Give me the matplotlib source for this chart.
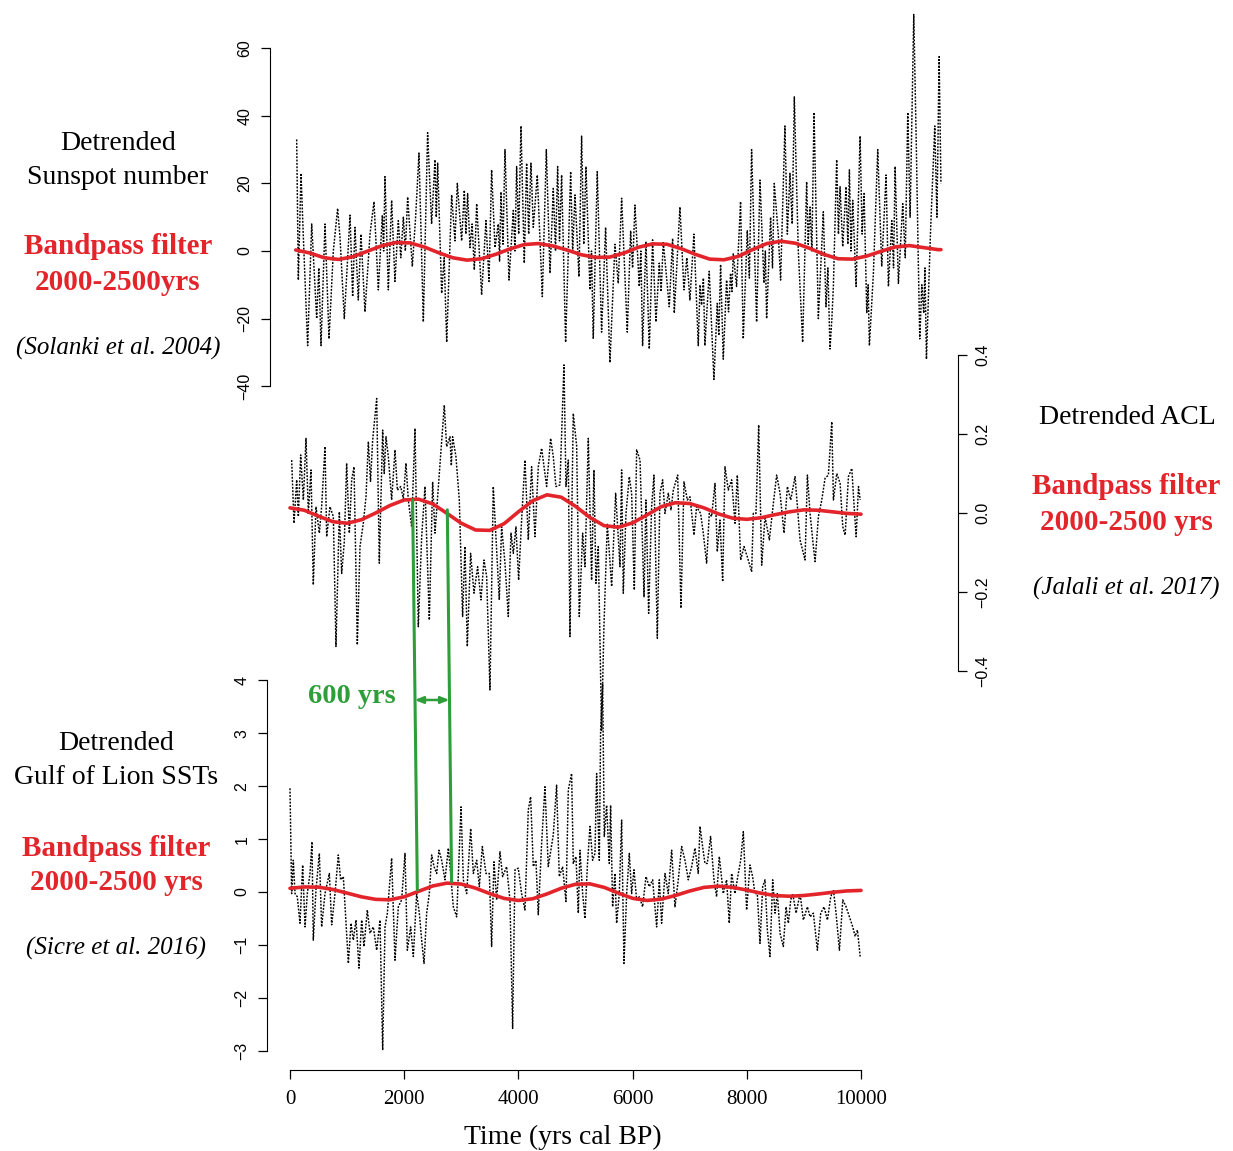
import numpy as np
import matplotlib.pyplot as plt
from matplotlib.patches import ConnectionPatch

# ---------------- data ----------------
# Detrended sunspot number (Solanki et al. 2004)
sun_years = [117, 146, 193, 234, 309, 380, 467, 505, 543, 613, 683, 759, 834, 876, 951, 1051, 1097, 1138, 1196, 1243,
             1313, 1401, 1471, 1547, 1617, 1640, 1663, 1722, 1780, 1838, 1897, 1940, 1985, 2020, 2060, 2142, 2200, 2259,
             2335, 2410, 2480, 2539, 2562, 2586, 2656, 2700, 2744, 2831, 2889, 2930, 3006, 3053, 3080, 3111, 3152, 3190,
             3228, 3269, 3356, 3432, 3485, 3531, 3590, 3648, 3670, 3695, 3730, 3765, 3835, 3911, 3940, 3969, 4005, 4045,
             4103, 4144, 4180, 4220, 4261, 4331, 4419, 4489, 4553, 4611, 4650, 4687, 4720, 4757, 4827, 4915, 4950, 4991,
             5061, 5107, 5145, 5183, 5253, 5280, 5311, 5381, 5457, 5527, 5603, 5691, 5749, 5808, 5907, 5966, 6000, 6041,
             6117, 6145, 6175, 6234, 6292, 6350, 6409, 6467, 6500, 6537, 6642, 6701, 6730, 6829, 6899, 6950, 7004, 7074,
             7150, 7180, 7208, 7240, 7266, 7342, 7424, 7483, 7510, 7541, 7588, 7646, 7680, 7716, 7740, 7763, 7821, 7891,
             7938, 8008, 8045, 8084, 8172, 8231, 8301, 8325, 8347, 8417, 8450, 8481, 8551, 8592, 8668, 8710, 8756, 8795,
             8832, 8902, 8978, 9048, 9075, 9107, 9140, 9177, 9253, 9340, 9387, 9420, 9457, 9490, 9516, 9574, 9605, 9633,
             9680, 9738, 9770, 9797, 9825, 9855, 9914, 9984, 10020, 10054, 10101, 10125, 10147, 10217, 10293, 10363,
             10439, 10480, 10539, 10570, 10597, 10655, 10731, 10775, 10819, 10860, 10924, 10970, 11000, 11029, 11065,
             11099, 11120, 11146, 11216, 11292, 11330, 11368, 11400]
sun_vals = [33, -8.6, 23, 4, -28, 8, -20, -5, -28, 8, -26, 0, 12.6, 4, -20, 10.6, -13.5, 7, -14.5, 5,
            -18, 5, 14.6, -11.5, 10.6, 0, 22, -11.5, 15, -9, 9, -2, 10, 0, 16, -4.6, 10, 29,
            -21, 35, 8, 27, 10, 26, -12.5, -2, -27, 16.6, 3, 20, 3, 18, 5, 17, 1, 8,
            -5.6, 14, -13, 9, -9, 24, 1, 8, -3, 17.5, 2, 30, -8.6, 12, 0, 25, 5, 37,
            -3.6, 26, 5, 26, 7, 22.5, -13.5, 30, -6.6, 18.5, 0, 25, 3, 22.5, -27, 23.5, 0, 16.6,
            -7.6, 34, 2, 25, -11.5, 0, -26, 23.5, -24, 7, -33, 2, -9.6, 15.6, -24, 6, -5, 13.6,
            -10.5, 0, -28, 2.8, -29, 3.3, -21, -3.6, -12, 2.8, -16.5, 3.7, -18.4, 13, -11.5, -2, -14.5, 5,
            -28, -10, -16, -8, -28, -6, -38, -15.5, -25, -4, -32, -8.6, -18, -6.6, -12, -0.7, -10.5, 14.6,
            -26, 6, -8, 30, -21, 21, -9.5, 0, -20, 10, -5, 20, 5, -8.6, 37, 5, 23, 8,
            45.6, 0, -27, 20.5, 2, 13, 0, 41, -20, 11.6, -16.5, -5, -29, -20, -10.5, 27, 5, 19,
            1.3, 19, 2, 24, 0, 15, -10.5, 34, 5, 17, -18.4, -10, -28, -6.6, 30, -4.6,
            22.5, -10.5, 9, -5, 25, -9.6, 14, -2, 41, 10, 70, 30, 0, -26, -10,
            -18.4, -5, -32, 5, 37, 10, 57.5, 20]
sun_bp_years = np.arange(100, 11400, 250)
sun_bp_years = np.append(sun_bp_years, 11400)
sun_bp_vals = [0.3, -0.6, -2.0, -2.5, -1.7, -0.1, 1.5, 2.5, 2.4, 1.2, -0.5, -2.0, -2.7, -2.3, -1.0, 0.6,
               1.9, 2.2, 1.5, 0.3, -1.1, -1.9, -1.8, -0.6, 1.1, 2.1, 2.0, 0.7, -1.0, -2.4, -2.6, -1.6,
               0.4, 2.2, 2.9, 2.3, 0.8, -1.0, -2.3, -2.4, -1.5, -0.1, 1.2, 1.6, 1.0, 0.4, 0.4]

# Detrended ACL (Jalali et al. 2017)
acl_years = [29, 70, 117, 146, 187, 234, 280, 321, 368, 408, 455, 514, 554, 613, 642, 700, 759, 805, 864, 905,
             951, 992, 1039, 1080, 1121, 1179, 1226, 1284, 1331, 1372, 1410, 1448, 1518, 1564, 1623, 1650, 1681,
             1722, 1780, 1839, 1880, 1938, 1985, 2031, 2072, 2130, 2189, 2247, 2306, 2364, 2440, 2498, 2539, 2615,
             2702, 2743, 2802, 2825, 2848, 2906, 2965, 3023, 3064, 3105, 3163, 3222, 3286, 3344, 3397, 3444, 3502,
             3560, 3619, 3665, 3706, 3765, 3823, 3870, 3911, 3957, 4004, 4056, 4115, 4173, 4231, 4290, 4348, 4407,
             4494, 4564, 4611, 4657, 4727, 4798, 4833, 4874, 4903, 4961, 5020, 5066, 5125, 5166, 5224, 5282, 5323,
             5358, 5399, 5457, 5498, 5557, 5633, 5703, 5779, 5808, 5837, 5884, 5942, 5983, 6030, 6071, 6130, 6200,
             6234, 6281, 6333, 6374, 6433, 6479, 6526, 6567, 6625, 6672, 6713, 6789, 6847, 6900, 6958, 7005, 7075,
             7121, 7191, 7238, 7296, 7343, 7384, 7443, 7483, 7530, 7577, 7618, 7676, 7735, 7793, 7834, 7893, 7951,
             8009, 8085, 8114, 8161, 8208, 8261, 8319, 8395, 8465, 8523, 8582, 8652, 8711, 8769, 8845, 8932, 9020,
             9061, 9108, 9166, 9196, 9254, 9313, 9371, 9429, 9488, 9517, 9576, 9634, 9681, 9722, 9780, 9839, 9880,
             9915, 9956, 9986]
acl_vals = [.134, -.026, .084, -.009, .147, .033, .189, -.001, .109, -.182, .016, -.051, .016, .168, -.060, .016,
            -.009, -.338, .003, -.153, -.073, .126, -.051, .084, .117, -.334, -.085, -.026, .041, .181, .080, .185,
            .290, -.127, .210, .100, .193, .143, .033, .160, .058, .067, .037, .126, .033, -.035, .214, -.288, -.060,
            .067, -.271, .079, -.051, .100, .273, .168, .193, .120, .193, .143, .033, -.262, -.085, -.338, -.102,
            -.203, -.136, -.220, -.119, -.161, -.448, .067, -.094, -.220, -.035, -.127, -.262, -.051, -.102, -.035,
            -.170, -.018, .134, -.068, .117, -.060, .117, .164, .067, .189, .143, .067, .071, .375, .067, .134,
            -.313, .252, .170, -.262, -.051, -.136, .189, -.170, .109, -.178, -.085, -.550, -.288, -.026, -.186,
            .050, -.136, .109, -.203, -.001, .092, .050, -.195, .160, .134, -.212, .033, -.254, .016, .096, -.317,
            .050, .084, -.001, .050, .008, .058, .096, -.241, .079, .033, .041, -.056, .016, -.001, -.051, -.127,
            -.001, -.009, .075, -.098, -.018, -.174, .117, .058, .084, -.026, .096, -.119, -.085, -.111, -.149,
            -.001, -.001, .223, -.132, -.009, -.068, .024, .096, .050, -.051, .067, .033, .092, -.068, -.119, .096,
            -.001, -.085, -.123, -.009, .033, .088, .096, .231, .033, .100, .075, -.035, -.056, .092, .113, .016,
            -.060, .067, .033]
acl_bp_years = np.arange(0, 10001, 250)
acl_bp_vals = [.013, .007, -.008, -.022, -.026, -.017, .000, .019, .033, .035, .023, -.001, -.026, -.043, -.044,
               -.027, .003, .031, .046, .040, .017, -.011, -.032, -.036, -.025, -.005, .016, .026, .024, .013,
               -.002, -.013, -.016, -.012, -.004, .003, .008, .007, .003, -.001, -.003]

# Detrended Gulf of Lion SSTs (Sicre et al. 2016)
sst_years = [0, 29, 58, 88, 128, 175, 222, 263, 303, 350, 385, 408, 455, 514, 554, 613, 689, 730, 788, 846, 887,
             934, 975, 1022, 1068, 1109, 1156, 1208, 1255, 1296, 1354, 1401, 1459, 1518, 1576, 1623, 1664, 1705,
             1780, 1839, 1897, 1955, 2014, 2055, 2113, 2160, 2218, 2265, 2306, 2347, 2393, 2440, 2481, 2522, 2569,
             2609, 2656, 2714, 2773, 2813, 2860, 2919, 2995, 3036, 3094, 3164, 3211, 3269, 3316, 3368, 3432, 3491,
             3531, 3572, 3619, 3677, 3724, 3794, 3852, 3899, 3940, 3998, 4056, 4115, 4173, 4214, 4261, 4307, 4348,
             4407, 4465, 4523, 4564, 4611, 4669, 4716, 4774, 4833, 4874, 4932, 4961, 5008, 5049, 5078, 5125, 5166,
             5207, 5253, 5300, 5341, 5370, 5417, 5440, 5475, 5504, 5545, 5592, 5615, 5650, 5691, 5720, 5767, 5808,
             5849, 5896, 5942, 5983, 6024, 6071, 6117, 6176, 6234, 6292, 6351, 6421, 6468, 6508, 6567, 6625, 6684,
             6742, 6800, 6859, 6917, 6975, 7034, 7092, 7150, 7180, 7226, 7267, 7308, 7366, 7425, 7471, 7518, 7588,
             7646, 7693, 7734, 7793, 7851, 7893, 7939, 7997, 8056, 8102, 8143, 8184, 8231, 8278, 8319, 8360, 8406,
             8453, 8494, 8535, 8582, 8640, 8687, 8728, 8769, 8804, 8863, 8933, 8991, 9061, 9108, 9166, 9236, 9295,
             9353, 9412, 9470, 9517, 9563, 9622, 9681, 9739, 9797, 9856, 9897, 9938, 9985]
sst_vals = [1.96, -.03, .60, -.03, -.09, -.59, .51, -.66, -.03, .35, .95, -.91, .04, .73, -.66, -.03, .35, -.62,
            -.03, .70, .23, .29, -.47, -1.35, -.59, -.91, -.53, -1.44, -.53, -1.03, -.34, -.78, -.66, -1.10, -.53,
            -2.99, -.66, -.40, .64, -1.29, -.28, -.15, .73, -1.10, -.66, -1.22, -.03, -.40, -.91, -1.35, -.40, -.03,
            .70, .48, .35, .79, .60, .23, .83, .35, -.28, -.47, 1.61, .23, -.03, 1.20, .35, .60, .10, .86, .35, .35,
            -1.03, .57, -.15, .76, .29, .48, -.15, -2.58, .42, .45, -.03, -.34, 1.55, 1.80, .48, .60, -.43,
            .92, 1.99, .48, .76, 1.08, 2.02, .29, .48, -.18, 1.93, 2.24, .54, .67, -.40, .79, -.03, -.50,
            .48, 1.24, .60, .73, 2.24, .60, 3.06, 3.94, 1.05, 1.64, .54, 1.64, -.28, .35, -.59, -.03, 1.36,
            -1.35, -.03, .73, -.03, .42, -.15, -.09, -.28, .29, .10, .23, -.66, .23, -.59, .35, -.03, .79,
            -.28, .23, .86, .60, .23, .48, .83, .35, 1.24, .86, .54, .54, 1.05, .23, -.09, .67, -.03,
            .23, -.59, .35, -.03, .35, .60, 1.14, -.34, .51, .29, -.03, -.03, -.97, .10, .23, -.72, -1.22,
            .23, -.40, -.03, -.78, -1.03, -.28, -.59, -.15, -.03, -.40, -.03, -.53, -.28, -.47, -.40, -1.10, -.40,
            -.28, -.53, -.09, .04, -.40, -1.10, -.15, -.28, -.47, -.66, -.84, -.72, -1.22]
sst_bp_years = np.arange(0, 10001, 250)
sst_bp_vals = [.07, .095, .092, .048, -.021, -.091, -.139, -.147, -.091, .012, .114, .168, .15, .073, -.031,
               -.121, -.16, -.128, -.037, .071, .146, .154, .088, -.02, -.119, -.16, -.135, -.066, .019, .087,
               .11, .088, .037, -.023, -.068, -.08, -.066, -.038, -.006, .02, .03]

# green phase-shift markers: (year, ACL value) -> (year, SST value)
shift_acl_years = [2147, 2755]
shift_acl_vals = [0.033, 0.008]
shift_sst_years = [2230, 2830]
shift_sst_vals = [0.038, 0.195]

# ---------------- layout ----------------
W, H = 1233, 1151
X0, PX_PER_YR = 290, 0.0571
RED = '#e3242b'
GREEN = '#2e9e3a'
SERIF = 'Liberation Serif'
SANS = 'Liberation Sans'


def box(l, t, r, b):
    return [l / W, 1 - b / H, (r - l) / W, (b - t) / H]


def xl(l, r):
    return ((l - X0) / PX_PER_YR, (r - X0) / PX_PER_YR)


fig = plt.figure(figsize=(W / 100, H / 100), dpi=100)

ax1 = fig.add_axes(box(270, 10, 962, 400))
ax2 = fig.add_axes(box(270, 330, 958, 760))
ax3 = fig.add_axes(box(267, 650, 884, 1070))

ax1.set_xlim(*xl(270, 962))
ax1.set_ylim((251 - 400) / 3.38, (251 - 10) / 3.38)
ax2.set_xlim(*xl(270, 958))
ax2.set_ylim((513 - 760) / 395, (513 - 330) / 395)
ax3.set_xlim(*xl(267, 884))
ax3.set_ylim((892 - 1070) / 52.9, (892 - 650) / 52.9)

noise_kw = dict(color='black', lw=1.05, ls=(0, (1.3, 1.0)), clip_on=False)
bp_kw = dict(color=RED, lw=2.6, clip_on=False, solid_capstyle='round')

ax1.plot(sun_years, sun_vals, **noise_kw)
ax1.plot(sun_bp_years, sun_bp_vals, **bp_kw)
ax2.plot(acl_years, acl_vals, **noise_kw)
ax2.plot(acl_bp_years, acl_bp_vals, **bp_kw)
ax3.plot(sst_years, sst_vals, **noise_kw)
ax3.plot(sst_bp_years, sst_bp_vals, **bp_kw)

for ax in (ax1, ax2, ax3):
    ax.set_facecolor('none')
    for s in ax.spines.values():
        s.set_visible(False)
    ax.tick_params(length=6.5, width=0.9, labelsize=11.5, pad=6)

# top: sunspot axis on the left
ax1.xaxis.set_visible(False)
ax1.spines['left'].set_visible(True)
ax1.spines['left'].set_bounds(-40, 60)
ax1.set_yticks([-40, -20, 0, 20, 40, 60])
# middle: ACL axis on the right
ax2.xaxis.set_visible(False)
ax2.yaxis.tick_right()
ax2.spines['right'].set_visible(True)
ax2.spines['right'].set_bounds(-0.4, 0.4)
ax2.set_yticks([-0.4, -0.2, 0.0, 0.2, 0.4])
ax2.set_yticklabels(['\u22120.4', '\u22120.2', '0.0', '0.2', '0.4'])
# bottom: SST axis + time axis
ax3.spines['left'].set_visible(True)
ax3.spines['left'].set_bounds(-3, 4)
ax3.set_yticks(range(-3, 5))
ax3.spines['bottom'].set_visible(True)
ax3.spines['bottom'].set_bounds(0, 10000)
ax3.set_xticks(range(0, 10001, 2000))
ax3.tick_params(axis='x', labelsize=15, pad=8)

for ax in (ax1, ax2, ax3):
    for lab in ax.get_yticklabels():
        lab.set_rotation(90)
        lab.set_va('center')
        lab.set_family(SANS)
for lab in ax3.get_xticklabels():
    lab.set_family(SERIF)

ax3.set_xlabel('Time (yrs cal BP)', family=SERIF, fontsize=20)
ax3.xaxis.set_label_coords((563 - 267) / 617, -(1137 - 1070) / 420)
ax3.xaxis.label.set_va('center')

# green phase shift lines + arrow
for ya, va, yb, vb in zip(shift_acl_years, shift_acl_vals, shift_sst_years, shift_sst_vals):
    con = ConnectionPatch(xyA=(ya, va), coordsA=ax2.transData, xyB=(yb, vb), coordsB=ax3.transData,
                          color=GREEN, lw=2.2)
    fig.add_artist(con)
ax3.annotate('', xy=(2792, 3.63), xytext=(2182, 3.63),
             arrowprops=dict(arrowstyle='<|-|>,head_length=0.5,head_width=0.2', color=GREEN, lw=1.8,
                             shrinkA=0, shrinkB=0))
ax3.text(1090, 3.69, '600 yrs', color=GREEN, family=SERIF, weight='bold', fontsize=20.5,
         ha='center', va='center')


def ft(x, y, s, **kw):
    fig.text(x / W, 1 - y / H, s, ha='center', va='center', family=SERIF, **kw)


# labels, top-left
ft(118, 143, 'Detrended', fontsize=20)
ft(118, 177, 'Sunspot number', fontsize=20)
ft(118, 247, 'Bandpass filter', fontsize=21, color=RED, weight='bold')
ft(118, 282, '2000-2500yrs', fontsize=21, color=RED, weight='bold')
ft(118, 348, '(Solanki et al. 2004)', fontsize=18, style='italic')
# labels, right
ft(1127, 417, 'Detrended ACL', fontsize=20)
ft(1126, 487, 'Bandpass filter', fontsize=21, color=RED, weight='bold')
ft(1126, 522, '2000-2500 yrs', fontsize=21, color=RED, weight='bold')
ft(1126, 588, '(Jalali et al. 2017)', fontsize=18, style='italic')
# labels, bottom-left
ft(116, 744, 'Detrended', fontsize=20)
ft(116, 778, 'Gulf of Lion SSTs', fontsize=20)
ft(116, 848, 'Bandpass filter', fontsize=21, color=RED, weight='bold')
ft(116, 883, '2000-2500 yrs', fontsize=21, color=RED, weight='bold')
ft(116, 948, '(Sicre et al. 2016)', fontsize=18, style='italic')

fig.savefig('out.png', dpi=100)
